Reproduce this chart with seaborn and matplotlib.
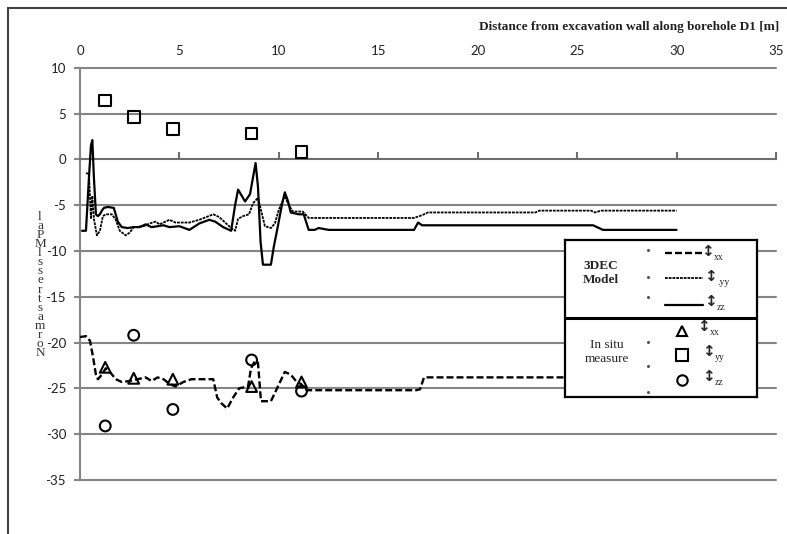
import numpy as np
import pandas as pd
import matplotlib
matplotlib.use("Agg")
import matplotlib.pyplot as plt
import seaborn as sns
from matplotlib.patches import Rectangle

# ---------------- data ----------------
x_zz_model = [0.1, 0.3, 0.45, 0.55, 0.62, 0.7, 0.8, 0.9, 1.0, 1.1, 1.2, 1.4, 1.7, 1.9, 2.1, 2.4, 2.7,
              3.0, 3.3, 3.6, 3.9, 4.2, 4.5, 5.0, 5.5, 6.0, 6.5, 6.8, 7.2, 7.6, 7.8, 7.95, 8.3, 8.55,
              8.83, 8.95, 9.08, 9.2, 9.6, 9.75, 9.95, 10.15, 10.3, 10.45, 10.6, 11.0, 11.25, 11.5,
              11.8, 12.0, 12.5, 16.8, 17.0, 17.2, 17.5, 25.8, 26.3, 30.0]
y_zz_model = [-7.8, -7.8, -2.0, 1.5, 2.1, -2.0, -6.0, -6.2, -6.0, -5.6, -5.3, -5.2, -5.3, -6.8, -7.4,
              -7.5, -7.4, -7.4, -7.1, -7.4, -7.3, -7.2, -7.4, -7.3, -7.7, -7.0, -6.6, -6.8, -7.4, -7.8,
              -5.0, -3.3, -4.6, -3.8, -0.4, -3.0, -9.0, -11.5, -11.5, -9.5, -7.3, -5.0, -3.6, -4.5,
              -5.8, -6.0, -6.0, -7.7, -7.7, -7.5, -7.7, -7.7, -6.9, -7.2, -7.2, -7.2, -7.7, -7.7]

x_yy_model = [0.3, 0.45, 0.55, 0.62, 0.7, 0.85, 1.0, 1.15, 1.3, 1.6, 1.8, 2.0, 2.3, 2.5, 2.7, 3.2,
              3.5, 3.8, 4.0, 4.5, 4.8, 5.5, 6.0, 6.7, 7.0, 7.3, 7.6, 7.8, 7.95, 8.2, 8.5, 8.7, 8.95,
              9.3, 9.6, 9.8, 10.0, 10.3, 10.5, 10.7, 11.2, 11.5, 12.0, 16.8, 17.2, 17.5, 22.9, 23.1,
              25.7, 25.9, 26.2, 30.0]
y_yy_model = [-1.5, -1.6, -6.5, -4.0, -6.5, -8.3, -7.8, -6.2, -6.0, -6.0, -6.6, -7.8, -8.3, -8.0,
              -7.4, -7.3, -7.0, -6.8, -7.1, -6.6, -6.9, -6.9, -6.6, -6.0, -6.3, -6.9, -7.5, -7.8,
              -6.5, -6.2, -6.0, -4.8, -4.2, -7.3, -7.5, -7.0, -5.5, -4.0, -5.0, -5.7, -5.7, -6.4,
              -6.4, -6.4, -6.1, -5.8, -5.8, -5.6, -5.6, -5.8, -5.6, -5.6]

x_xx_model = [0.0, 0.3, 0.5, 0.65, 0.8, 0.9, 1.1, 1.3, 1.5, 1.8, 2.1, 2.5, 2.9, 3.3, 3.6, 3.9, 4.2,
              4.5, 4.8, 5.2, 5.6, 6.0, 6.7, 6.9, 7.1, 7.4, 7.7, 8.0, 8.2, 8.45, 8.6, 8.8, 8.95, 9.1,
              9.6, 9.8, 9.95, 10.3, 10.6, 10.9, 11.1, 11.4, 16.9, 17.1, 17.3, 30.0]
y_xx_model = [-19.4, -19.3, -19.8, -21.5, -23.5, -24.0, -23.5, -22.8, -23.2, -24.0, -24.3, -24.2,
              -24.0, -23.8, -24.2, -23.8, -24.0, -24.5, -24.8, -24.3, -24.0, -24.0, -24.0, -26.0,
              -26.6, -27.2, -26.0, -25.0, -24.9, -24.8, -22.8, -22.0, -22.2, -26.4, -26.4, -25.5,
              -24.8, -23.2, -23.5, -24.3, -24.5, -25.2, -25.2, -25.1, -23.8, -23.8]

x_insitu = [1.27, 2.7, 4.67, 8.63, 11.14]
y_xx_insitu = [-22.7, -23.9, -24.0, -24.8, -24.3]
y_yy_insitu = [6.4, 4.6, 3.3, 2.8, 0.8]
y_zz_insitu = [-29.1, -19.2, -27.3, -21.9, -25.3]

x_ticks = [0, 5, 10, 15, 20, 25, 30, 35]
y_ticks = [10, 5, 0, -5, -10, -15, -20, -25, -30, -35]

xlabel = "Distance from excavation wall along borehole D1 [m]"
ylabel_chars = ["l", "a", "P", "M", "l", "s", "s", "e", "r", "t", "s", "a", "m", "r", "o", "N"]

# ---------------- style ----------------
sns.set_style("white")
plt.rcParams["font.family"] = ["Lato", "DejaVu Sans"]
plt.rcParams["lines.scale_dashes"] = False

W, H = 787, 534
fig = plt.figure(figsize=(W / 100, H / 100), dpi=100)
fig.patch.set_facecolor("white")

def fx(px):
    return px / W

def fy(py):
    return 1 - py / H

ax = fig.add_axes([fx(80), fy(480), fx(776) - fx(80), fy(67.7) - fy(480)])
ax.set_xlim(0, 35)
ax.set_ylim(-35, 10)

grid_col = "#858585"
for yv in y_ticks:
    if yv != 0:
        ax.axhline(yv, color=grid_col, lw=1.5, zorder=0, clip_on=False)

# model lines
sns.lineplot(x=x_xx_model, y=y_xx_model, ax=ax, color="black", lw=1.7, sort=False,
             estimator=None, zorder=3)
ax.lines[-1].set_dashes((5, 2.2))
sns.lineplot(x=x_yy_model, y=y_yy_model, ax=ax, color="black", lw=1.3, sort=False,
             estimator=None, zorder=3)
ax.lines[-1].set_dashes((2.0, 0.7))
sns.lineplot(x=x_zz_model, y=y_zz_model, ax=ax, color="black", lw=1.6, sort=False,
             estimator=None, zorder=3)

# in situ
sns.scatterplot(x=x_insitu, y=y_xx_insitu, ax=ax, marker="^", s=60, facecolor="none",
                edgecolor="black", linewidth=1.5, zorder=4)
sns.scatterplot(x=x_insitu, y=y_yy_insitu, ax=ax, marker="s", s=70, facecolor="none",
                edgecolor="black", linewidth=1.5, zorder=4)
sns.scatterplot(x=x_insitu, y=y_zz_insitu, ax=ax, marker="o", s=60, facecolor="none",
                edgecolor="black", linewidth=1.5, zorder=4)

# axes styling
for s in ["top", "right"]:
    ax.spines[s].set_visible(False)
ax.spines["bottom"].set_position(("data", 0))
ax.spines["bottom"].set_color("#6e6e6e")
ax.spines["bottom"].set_linewidth(1.5)
ax.spines["left"].set_color(grid_col)
ax.spines["left"].set_linewidth(1.5)
ax.set_xticks(x_ticks)
ax.set_yticks(y_ticks)
ax.set_xticklabels([str(v) for v in x_ticks])
ax.set_yticklabels([str(v) for v in y_ticks])
ax.tick_params(axis="x", bottom=True, top=False, labelbottom=False, labeltop=True,
               direction="in", length=5, width=1.5, color="#6e6e6e", pad=8,
               labelsize=9.5, labelcolor="#222222")
ax.tick_params(axis="y", left=True, direction="out", length=4, width=1.5, color=grid_col,
               pad=6, labelsize=9.5, labelcolor="#222222")
ax.set_xlabel("")
ax.set_ylabel("")

# title text
fig.text(fx(779), fy(27), xlabel, ha="right", va="center", fontsize=9.5,
         family="Liberation Serif", weight="bold", color="#222222")

# stacked y label (one text object)
fig.text(fx(40), fy(285), "\n".join(ylabel_chars), ha="center", va="center", fontsize=9.5,
         family="Liberation Serif", color="#333333", linespacing=0.68)

# outer frame
fig.patches.append(Rectangle((fx(8), -0.2), 1.3, fy(8) + 0.2, transform=fig.transFigure,
                             fill=False, edgecolor="#444444", lw=1.5, zorder=0))

# legend box
lx0, lx1, ly0, ly1 = 565, 757, 240, 397
lax = fig.add_axes([fx(lx0), fy(ly1), fx(lx1) - fx(lx0), fy(ly0) - fy(ly1)], zorder=5)
lax.set_xlim(lx0, lx1)
lax.set_ylim(ly1, ly0)
lax.set_xticks([])
lax.set_yticks([])
lax.set_facecolor("white")
for s in lax.spines.values():
    s.set_color("black")
    s.set_linewidth(1.6)
lax.plot([lx0, lx1], [318, 318], color="black", lw=2.2)

lax.text(601, 273, "3DEC\nModel", ha="center", va="center", fontsize=9.5,
         family="Liberation Serif", weight="bold", linespacing=1.3)
lax.text(607, 352, "In situ\nmeasure", ha="center", va="center", fontsize=9.5,
         family="Liberation Serif", linespacing=1.3)

lax.plot([665, 702], [253, 253], color="black", lw=1.7, dashes=(5, 2.2))
lax.plot([665, 703], [278, 278], color="black", lw=1.3, dashes=(2.0, 0.7))
lax.plot([665, 703], [305, 305], color="black", lw=1.6)
lax.plot([682], [331], marker="^", ms=7.5, mfc="none", mec="black", mew=1.5)
lax.plot([682], [355], marker="s", ms=8, mfc="none", mec="black", mew=1.5)
lax.plot([682], [380], marker="o", ms=7.5, mfc="none", mec="black", mew=1.5)
for py in [250, 277, 297, 342, 366, 392]:
    lax.plot([648], [py], marker="o", ms=1.2, color="#555555")

arrows = [(707, 251, "xx"), (710, 276, ".yy"), (710, 301, "zz"),
          (703, 326, "xx"), (708, 351, "yy"), (708, 376, "zz")]
for ax_px, ay_px, sub in arrows:
    lax.text(ax_px, ay_px, "\u2195", ha="center", va="center", fontsize=11,
             family="DejaVu Sans", weight="bold")
    lax.text(ax_px + 7, ay_px + 7, sub, ha="left", va="center", fontsize=7,
             family="Liberation Serif")

fig.savefig("out.png", dpi=100)
